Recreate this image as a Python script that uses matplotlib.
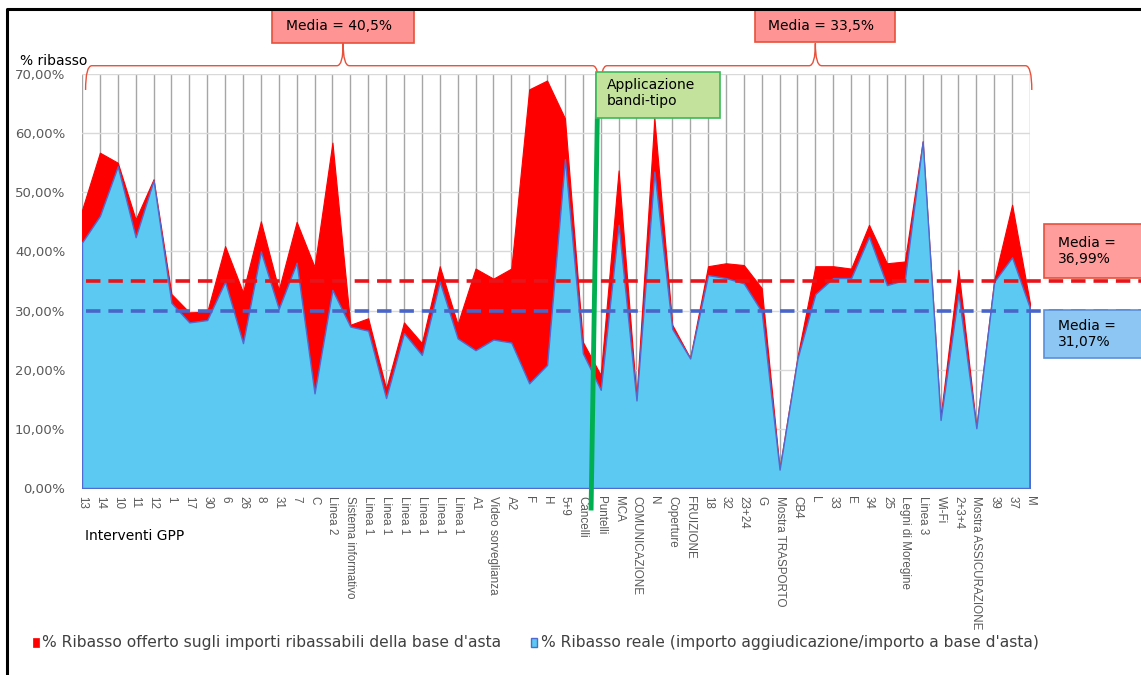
import matplotlib
matplotlib.use('Agg')
from matplotlib import pyplot as plt
from matplotlib.path import Path
from matplotlib.patches import PathPatch, Rectangle
from matplotlib.lines import Line2D

# Interventi GPP (asse x)
categories = ['13', '14', '10', '11', '12', '1', '17', '30', '6', '26', '8', '31', '7', 'C',
              'Linea 2', 'Sistema informativo', 'Linea 1', 'Linea 1', 'Linea 1', 'Linea 1',
              'Linea 1', 'Linea 1', 'A1', 'Video sorveglianza', 'A2', 'F', 'H', '5+9',
              'Cancelli', 'Puntelli', 'MCA', 'COMUNICAZIONE', 'N', 'Coperture', 'FRUIZIONE',
              '18', '32', '23+24', 'G', 'Mostra TRASPORTO', 'CB4', 'L', '33', 'E', '34', '25',
              'Legni di Moregine', 'Linea 3', 'Wi-Fi', '2+3+4', 'Mostra ASSICURAZIONE',
              '39', '37', 'M']

# % ribasso offerto (rosso)
ribasso_offerto = [47.0, 56.7, 55.0, 45.4, 52.2, 32.8, 29.7, 29.8, 40.9, 33.1, 45.1, 33.5,
                   45.0, 37.4, 58.4, 27.6, 28.7, 16.8, 28.0, 24.5, 37.5, 27.7, 37.1, 35.4,
                   37.1, 67.4, 68.9, 62.5, 24.7, 19.1, 53.7, 15.3, 62.5, 27.6, 22.0, 37.5,
                   38.0, 37.7, 33.8, 3.3, 22.2, 37.5, 37.5, 37.1, 44.5, 38.0, 38.3, 58.6,
                   12.0, 36.9, 10.3, 35.2, 47.9, 31.2]

# % ribasso reale (azzurro)
ribasso_reale = [41.5, 46.0, 54.4, 42.4, 52.0, 31.3, 28.0, 28.4, 34.9, 24.5, 40.0, 30.3,
                 38.1, 16.0, 33.5, 27.3, 26.6, 15.2, 26.2, 22.5, 34.9, 25.3, 23.3, 25.1,
                 24.6, 17.7, 20.8, 55.6, 22.8, 16.6, 44.5, 14.8, 53.5, 26.9, 21.9, 36.0,
                 35.5, 34.6, 29.8, 3.1, 21.9, 32.8, 35.5, 35.5, 42.5, 34.3, 35.2, 58.6,
                 11.5, 32.9, 10.1, 34.9, 39.0, 30.4]

# linee di media tracciate e relative etichette
media_offerto_line = 35.0
media_reale_line = 30.0
media_offerto_label = 'Media =\n36,99%'
media_reale_label = 'Media =\n31,07%'
media_prima_label = 'Media = 40,5%'
media_dopo_label = 'Media = 33,5%'

RED = '#FF0000'
BLUE = '#5BC9F2'
BLUE_EDGE = '#4F6BD2'
GREY = '#595959'
narrow = ['Liberation Sans', 'DejaVu Sans']

fig = plt.figure(figsize=(11.41, 6.75), dpi=100)
W, H = 1141, 675
ax = fig.add_axes([82 / W, 1 - 488 / H, (1030 - 82) / W, (488 - 74) / H])

x = list(range(len(categories)))
ax.fill_between(x, 0, ribasso_offerto, color=RED, lw=0.8, zorder=2)
ax.fill_between(x, 0, ribasso_reale, facecolor=BLUE, edgecolor=BLUE_EDGE, lw=1.0, zorder=3)
ax.plot([0, 0], [0, ribasso_reale[0]], color=BLUE_EDGE, lw=1.2, zorder=3)
ax.plot([x[-1], x[-1]], [0, ribasso_reale[-1]], color=BLUE_EDGE, lw=1.2, zorder=3)

ax.set_xlim(0, len(categories) - 1)
ax.set_ylim(0, 70)
ax.set_yticks(range(0, 71, 10))
ax.set_yticklabels([('%.2f%%' % v).replace('.', ',') for v in range(0, 71, 10)],
                   fontsize=9.5, color=GREY)
ax.set_xticks(x)
ax.set_xticklabels(categories, rotation=270, fontsize=8.4, color=GREY, family=narrow,
                   va='top', ha='center')
ax.tick_params(length=0)
ax.tick_params(axis='x', pad=6)
ax.tick_params(axis='y', pad=12)
ax.grid(axis='y', color='#D9D9D9', lw=1, zorder=0)
ax.grid(axis='x', color='#A6A6A6', lw=1, zorder=0)
ax.set_axisbelow(True)
for s in ['top', 'right', 'left']:
    ax.spines[s].set_visible(False)
ax.spines['bottom'].set_color('#BFBFBF')

# linee di media tratteggiate, prolungate fino al bordo destro
ax.plot([0.25, 59.3], [media_offerto_line] * 2, color='#E8141B', lw=2.6,
        dashes=(4, 2.2), clip_on=False, zorder=6)
ax.plot([0.25, 59.3], [media_reale_line] * 2, color='#4A65C8', lw=2.6,
        dashes=(4, 2.2), clip_on=False, zorder=6)

# linea verde: applicazione bandi-tipo
ax.plot([28.85, 28.46], [70.3, -3.8], color='#00B050', lw=3.5, clip_on=False,
        zorder=7, solid_capstyle='butt')


def brace(x0, x1, xc, y_end, y_line, y_tip, r):
    verts = [(x0, y_end), (x0, y_line), (x0 + r, y_line), (xc - r, y_line),
             (xc, y_line), (xc, y_tip), (xc, y_line), (xc + r, y_line),
             (x1 - r, y_line), (x1, y_line), (x1, y_end)]
    codes = [Path.MOVETO, Path.CURVE3, Path.CURVE3, Path.LINETO, Path.CURVE3,
             Path.CURVE3, Path.CURVE3, Path.CURVE3, Path.LINETO, Path.CURVE3, Path.CURVE3]
    ax.add_patch(PathPatch(Path(verts, codes), fill=False, edgecolor='#E8503A',
                           lw=1.0, clip_on=False, zorder=6))


brace(0.2, 28.9, 14.6, 67.3, 71.4, 75.2, 0.35)
brace(29.0, 53.1, 41.0, 67.3, 71.4, 75.2, 0.35)

# overlay in pixel per cornice, riquadri e legenda
ov = fig.add_axes([0, 0, 1, 1], zorder=10)
ov.set_xlim(0, W)
ov.set_ylim(H, 0)
ov.axis('off')
ov.patch.set_alpha(0)

ov.add_line(Line2D([7, 7, W], [H, 9, 9], color='black', lw=2.2))


def box(x0, y0, x1, y1, fc, ec, text, tx, ty, fs=10):
    ov.add_patch(Rectangle((x0, y0), x1 - x0, y1 - y0, facecolor=fc, edgecolor=ec, lw=1.2))
    ov.text(tx, ty, text, fontsize=fs, color='black', va='center', ha='left',
            linespacing=1.1)


box(272, 10, 414, 43, '#FF9494', '#E8503A', media_prima_label, 286, 26)
box(755, 10, 895, 42, '#FF9494', '#E8503A', media_dopo_label, 768, 26)
box(1044, 224, 1145, 278, '#FF9C9C', '#E8503A', media_offerto_label, 1058, 251)
box(1044, 310, 1145, 358, '#8DC6F2', '#5B8FD8', media_reale_label, 1058, 334)
box(596, 72, 720, 118, '#C3E29C', '#3CB95A', 'Applicazione\nbandi-tipo', 607, 93)

ov.text(20, 61, '% ribasso', fontsize=10, color='black', va='center', ha='left')
ov.text(85, 536, 'Interventi GPP', fontsize=10, color='black', va='center', ha='left')

# legenda
ov.add_patch(Rectangle((33, 638), 6, 9, facecolor=RED, edgecolor=RED, lw=0.5))
ov.text(42, 643, "% Ribasso offerto sugli importi ribassabili della base d'asta",
        fontsize=11.2, color='#404040', va='center', ha='left')
ov.add_patch(Rectangle((531, 638), 6, 9, facecolor=BLUE, edgecolor=BLUE_EDGE, lw=1))
ov.text(541, 643, "% Ribasso reale (importo aggiudicazione/importo a base d'asta)",
        fontsize=11.2, color='#404040', va='center', ha='left')

fig.savefig('out.png', dpi=100)
